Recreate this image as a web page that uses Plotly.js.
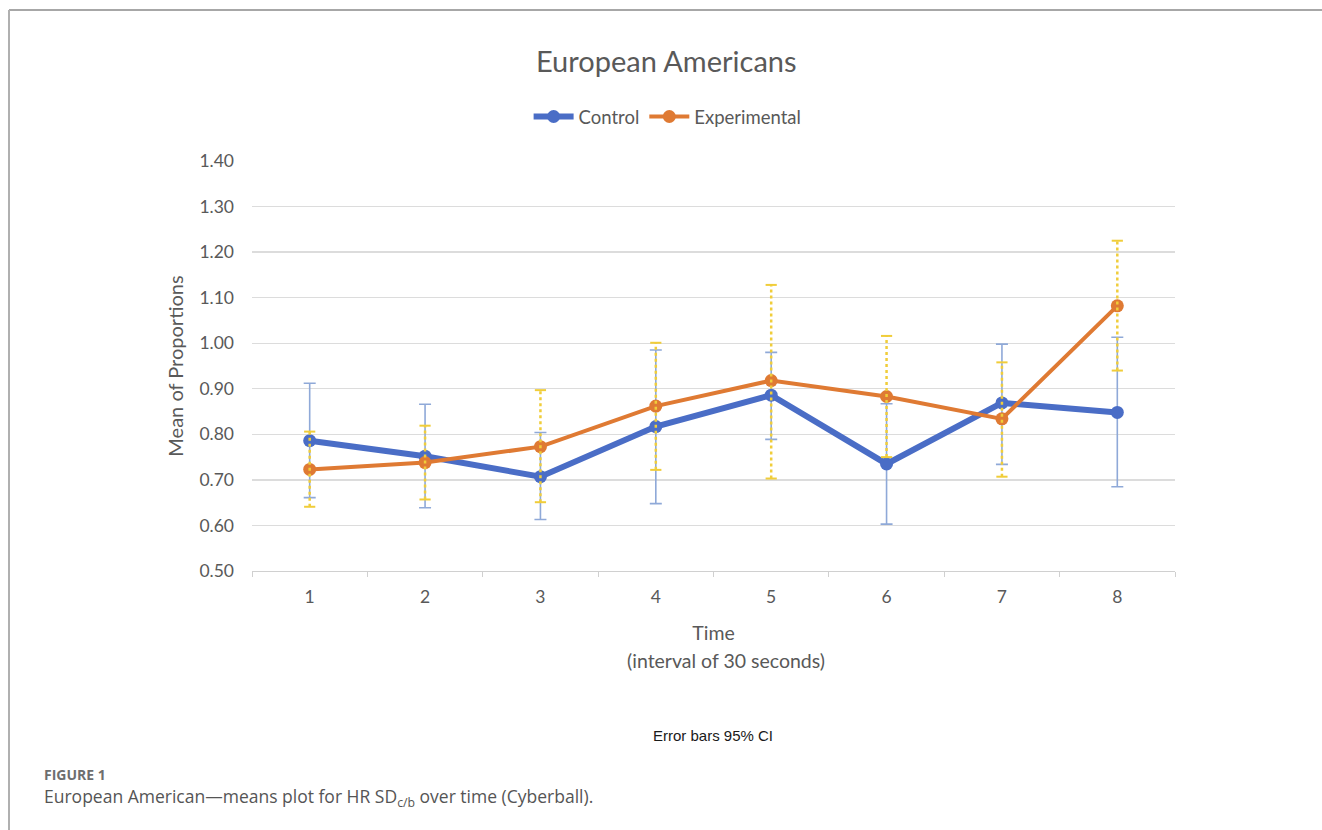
<!DOCTYPE html>
<html>
<head>
<meta charset="utf-8">
<script src="https://cdn.plot.ly/plotly-3.0.1.min.js"></script>
<style>html,body{margin:0;padding:0;background:#fff;}#chart{width:1322px;height:830px;}</style>
</head>
<body>
<div id="chart"></div>
<script>
// Data
const timePoints = [1, 2, 3, 4, 5, 6, 7, 8];
const controlMean = [0.786, 0.752, 0.707, 0.817, 0.886, 0.735, 0.869, 0.848];
const controlUpper = [0.912, 0.866, 0.804, 0.985, 0.980, 0.867, 0.998, 1.013];
const controlLower = [0.661, 0.639, 0.613, 0.648, 0.789, 0.603, 0.734, 0.685];
const expMean = [0.723, 0.738, 0.773, 0.862, 0.918, 0.883, 0.834, 1.082];
const expUpper = [0.806, 0.819, 0.897, 1.001, 1.128, 1.016, 0.958, 1.225];
const expLower = [0.641, 0.657, 0.651, 0.722, 0.703, 0.750, 0.707, 0.940];
const yTicks = [0.5, 0.6, 0.7, 0.8, 0.9, 1.0, 1.1, 1.2, 1.3, 1.4];

const blue = '#4A6DC6';
const orange = '#DF7A33';
const yellow = '#F0CD3A';
const blueErr = '#8FA9D8';

// Experimental dotted error bars built from the data arrays
const exX = [], exY = [];
timePoints.forEach((t, i) => { exX.push(t, t, null); exY.push(expLower[i], expUpper[i], null); });

const traces = [
  {
    x: timePoints, y: controlMean, type: 'scatter', mode: 'lines+markers', name: 'Control',
    line: {color: blue, width: 6}, marker: {color: blue, size: 13},
    error_y: {type: 'data', symmetric: false,
      array: controlUpper.map((u, i) => u - controlMean[i]),
      arrayminus: controlMean.map((m, i) => m - controlLower[i]),
      color: blueErr, thickness: 1.6, width: 6}
  },
  {
    x: timePoints, y: expMean, type: 'scatter', mode: 'lines+markers', name: 'Experimental',
    line: {color: orange, width: 4}, marker: {color: orange, size: 13}
  },
  {
    x: exX, y: exY, type: 'scatter', mode: 'lines', showlegend: false, hoverinfo: 'skip',
    line: {color: yellow, width: 2.5, dash: 'dot'}
  },
  {
    x: timePoints.concat(timePoints), y: expUpper.concat(expLower), type: 'scatter', mode: 'markers',
    showlegend: false, hoverinfo: 'skip',
    marker: {symbol: 'line-ew', size: 8, line: {color: yellow, width: 2}}
  }
];

// frame: px -> paper coords (plot 252..1175 x, 571..161 y)
const px = v => (v - 252) / 923;
const py = v => (571 - v) / 410;

const layout = {
  width: 1322, height: 830,
  margin: {l: 252, r: 147, t: 161, b: 259},
  paper_bgcolor: '#ffffff', plot_bgcolor: '#ffffff',
  font: {family: 'Lato, "Open Sans", sans-serif', color: '#595959'},
  title: {text: 'European Americans', font: {size: 29, color: '#595959', family: 'Lato, "Open Sans", sans-serif'},
    xref: 'container', yref: 'container', x: 0.504, xanchor: 'center', y: 1 - 62/830, yanchor: 'middle'},
  showlegend: true,
  legend: {orientation: 'h', xref: 'container', yref: 'container', x: 0.505, xanchor: 'center',
    y: 1 - 117/830, yanchor: 'middle', font: {size: 18.5, color: '#595959'}, itemwidth: 40,
    traceorder: 'normal', bgcolor: 'rgba(0,0,0,0)'},
  xaxis: {
    range: [0.5, 8.5], tickmode: 'array', tickvals: timePoints, ticktext: timePoints.map(String),
    showgrid: false, zeroline: false, showline: true, linecolor: '#d0d0d0', linewidth: 1,
    ticks: '', tickfont: {size: 17.5, color: '#595959'}, ticklabelstandoff: 10,
    minor: {tick0: 0.5, dtick: 1, ticks: 'outside', ticklen: 5, tickcolor: '#d0d0d0', showgrid: false},
    title: {text: 'Time', font: {size: 19.5, color: '#595959'}, standoff: 20},
    fixedrange: true
  },
  yaxis: {
    range: [0.5, 1.4], tickmode: 'array', tickvals: yTicks, ticktext: yTicks.map(v => v.toFixed(2)),
    showgrid: true, gridcolor: '#dcdcdc', gridwidth: 1.3, zeroline: false, showline: false,
    ticks: '', tickfont: {size: 17.5, color: '#595959'}, ticklabelstandoff: 17,
    title: {text: 'Mean of Proportions', font: {size: 20, color: '#595959'}, standoff: 10},
    fixedrange: true
  },
  shapes: [
    {type: 'line', xref: 'paper', yref: 'paper', x0: px(9), x1: px(1322), y0: py(10), y1: py(10),
      line: {color: '#8a8a8a', width: 1.5}},
    {type: 'line', xref: 'paper', yref: 'paper', x0: px(9), x1: px(9), y0: py(10), y1: py(830),
      line: {color: '#b0b0b0', width: 2}}
  ],
  annotations: [
    {text: '(interval of 30 seconds)', xref: 'paper', yref: 'paper', x: px(726), y: py(660),
      xanchor: 'center', yanchor: 'middle', showarrow: false,
      font: {family: 'Lato, "Open Sans", sans-serif', size: 19.5, color: '#595959'}},
    {text: 'Error bars 95% CI', xref: 'paper', yref: 'paper', x: px(713), y: py(735),
      xanchor: 'center', yanchor: 'middle', showarrow: false,
      font: {family: 'Liberation Sans, Arial, sans-serif', size: 15, color: '#1a1a1a'}},
    {text: '<b>FIGURE 1</b>', xref: 'paper', yref: 'paper', x: px(42), y: py(774),
      xanchor: 'left', yanchor: 'middle', showarrow: false,
      font: {family: '"Open Sans", Lato, sans-serif', size: 14, color: '#6e6e6e'}},
    {text: 'European American\u2014means plot for HR SD<sub>c/b</sub> over time (Cyberball).', xref: 'paper', yref: 'paper',
      x: px(42), y: py(797), xanchor: 'left', yanchor: 'middle', showarrow: false,
      font: {family: '"Open Sans", Lato, sans-serif', size: 17.5, color: '#555555'}}
  ]
};

Plotly.newPlot('chart', traces, layout, {displayModeBar: false, staticPlot: true});
</script>
</body>
</html>
